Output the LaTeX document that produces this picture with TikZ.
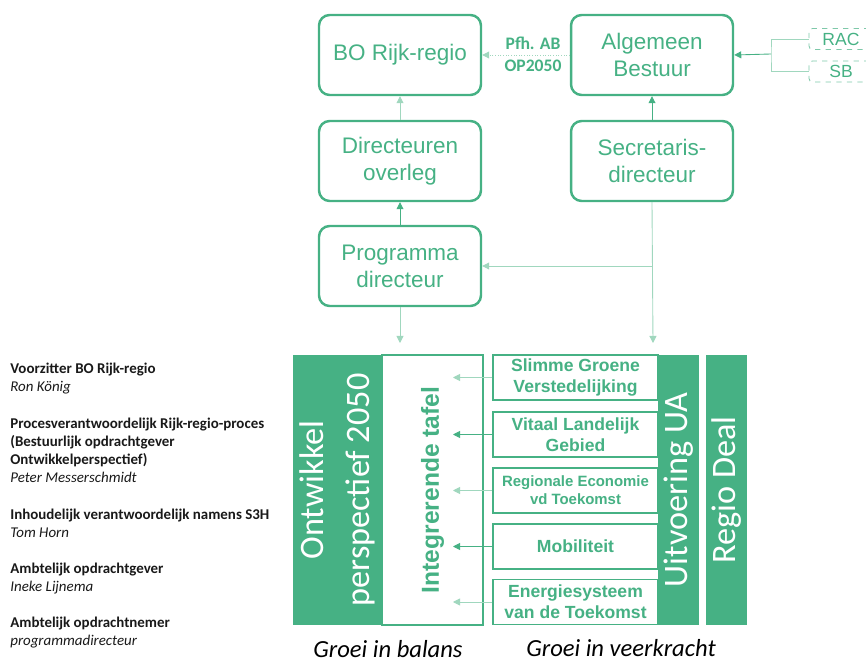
\documentclass[tikz,border=0pt]{standalone}
\usepackage{fontspec}
\setmainfont{Carlito}
\newfontfamily\arialfont{Liberation Sans}
\usetikzlibrary{arrows.meta}
\definecolor{groen}{RGB}{70,177,132}
\definecolor{lichtgroen}{RGB}{160,215,190}

\begin{document}
\begin{tikzpicture}[x=0.02cm, y=-0.02cm,
	blok/.style={draw=groen, line width=1.4pt, rounded corners=6pt, text=groen, align=center, minimum width=3.24cm, minimum height=1.6cm, font=\arialfont\fontsize{12.8}{15.3}\selectfont},
	thema/.style={draw=groen, line width=0.8pt, fill=white, text=groen, align=center, minimum width=3.3cm, minimum height=0.9cm, inner sep=0pt, font=\arialfont\bfseries\fontsize{10}{12}\selectfont},
	balk/.style={fill=groen, text=white, rotate=90, align=center, inner sep=0pt, minimum width=5.4cm, font=\fontsize{19.5}{26}\selectfont},
	extern/.style={draw=groen!70, dashed, line width=0.5pt, rounded corners=2pt, text=groen, minimum width=1.28cm, minimum height=0.42cm, inner sep=0pt, font=\arialfont\fontsize{10}{12}\selectfont},
	info/.style={anchor=north west, inner sep=0pt, align=left, text=black!90, font=\fontsize{8.5}{10.2}\selectfont},
	pijl/.style={-{Triangle[length=4pt,width=4pt]}, draw=groen, line width=0.5pt},
	zwak/.style={-{Triangle[length=4pt,width=4pt]}, draw=lichtgroen, line width=0.5pt},
	]
	\useasboundingbox (0,0) rectangle (866,662);
	% bovenste deel
	\node[blok] (bo) at (400,55) {BO Rijk-regio};
	\node[blok] (ab) at (652,55) {Algemeen\\Bestuur};
	\node[blok] (dir) at (400,161) {Directeuren\\overleg};
	\node[blok] (sec) at (652,161) {Secretaris-\\directeur};
	\node[blok] (prog) at (400,266) {Programma\\directeur};
	\node[extern] (rac) at (841,39) {RAC};
	\node[extern] (sb) at (841,71.5) {SB};
	\coordinate (rb) at (771,54);
	\coordinate (ontwtop) at (400,343);
	\coordinate (uittop) at (653,343);
	\coordinate (sectak) at (653,266);
	\node[text=groen, align=center, font=\bfseries\fontsize{10}{12.5}\selectfont] (pfh) at (533,54) {Pfh. AB\\OP2050};
	\draw[zwak, densely dotted] (ab.west) -- (bo.east);
	\draw[lichtgroen, line width=0.5pt] (rac.west) -| (rb) |- (sb.west);
	\draw[pijl] (rb) -- (ab.east);
	\draw[zwak] (dir.north) -- (bo.south);
	\draw[pijl] (prog.north) -- (dir.south);
	\draw[pijl] (sec.north) -- (ab.south);
	\draw[zwak] (sec.south) -- (uittop);
	\draw[zwak] (sectak) -- (prog.east);
	\draw[zwak] (prog.south) -- (ontwtop);
	% onderste deel
	\node[balk, minimum height=1.78cm] (ontw) at (337.5,490) {Ontwikkel\\perspectief 2050};
	\node[balk, fill=white, draw=groen, line width=0.8pt, text=groen, minimum height=2.02cm, font=\arialfont\bfseries\fontsize{14}{16}\selectfont] (tafel) at (432.5,490) {Integrerende tafel};
	\node[balk, minimum height=0.82cm] (uit) at (678.5,490) {Uitvoering UA};
	\node[balk, minimum height=0.82cm] (deal) at (726.5,490) {Regio Deal};
	\node[thema] (t1) at (575.5,377.5) {Slimme Groene\\Verstedelijking};
	\node[thema] (t2) at (575.5,434.5) {Vitaal Landelijk\\Gebied};
	\node[thema, font=\arialfont\bfseries\fontsize{8.5}{10.4}\selectfont] (t3) at (575.5,490.5) {Regionale Economie\\vd Toekomst};
	\node[thema] (t4) at (575.5,546.5) {Mobiliteit};
	\node[thema] (t5) at (575.5,602) {Energiesysteem\\van de Toekomst};
	\coordinate (inpijl) at (453,490);
	\draw[zwak] (t1.west) -- (t1.west -| inpijl);
	\draw[pijl] (t2.west) -- (t2.west -| inpijl);
	\draw[zwak] (t3.west) -- (t3.west -| inpijl);
	\draw[pijl] (t4.west) -- (t4.west -| inpijl);
	\draw[zwak] (t5.west) -- (t5.west -| inpijl);
	\node[anchor=base, font=\itshape\fontsize{14}{16}\selectfont] (balans) at (388,657) {Groei in balans};
	\node[anchor=base, font=\itshape\fontsize{14}{16}\selectfont] (veer) at (621,656) {Groei in veerkracht};
	% namen links
	\node[info] (voorzitter) at (10,363) {\textbf{Voorzitter BO Rijk-regio}\\\textit{Ron König}};
	\node[info] (proces) at (10,418) {\textbf{Procesverantwoordelijk Rijk-regio-proces}\\\textbf{(Bestuurlijk opdrachtgever}\\\textbf{Ontwikkelperspectief)}\\\textit{Peter Messerschmidt}};
	\node[info] (inhoud) at (10,509) {\textbf{Inhoudelijk verantwoordelijk namens S3H}\\\textit{Tom Horn}};
	\node[info] (ambtgever) at (10,563) {\textbf{Ambtelijk opdrachtgever}\\\textit{Ineke Lijnema}};
	\node[info] (ambtnemer) at (10,617) {\textbf{Ambtelijk opdrachtnemer}\\\textit{programmadirecteur}};
\end{tikzpicture}
\end{document}
